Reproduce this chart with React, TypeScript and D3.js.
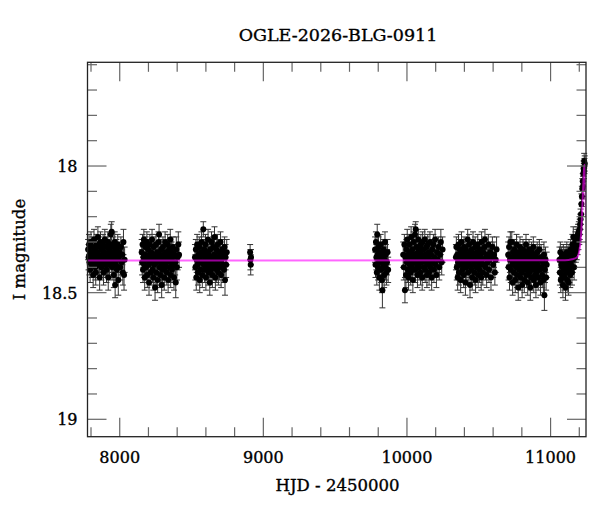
import React from "react";
import * as d3 from "d3";

// [HJD - 2450000, I mag, error] per observing season
const season1: [number, number, number][] = [
  [7780,18.33,.04],[7783,18.36,.05],[7786,18.31,.04],[7789,18.38,.05],[7791,18.35,.04],[7794,18.41,.05],[7797,18.34,.04],[7800,18.30,.04],[7803,18.37,.05],[7806,18.39,.05],
  [7809,18.32,.04],[7812,18.36,.04],[7815,18.43,.05],[7818,18.35,.04],[7821,18.29,.04],[7824,18.38,.05],[7827,18.33,.04],[7830,18.40,.05],[7833,18.42,.05],[7836,18.36,.04],
  [7839,18.31,.04],[7842,18.37,.05],[7845,18.34,.04],[7848,18.28,.04],[7851,18.39,.05],[7854,18.35,.04],[7857,18.32,.04],[7860,18.44,.05],[7863,18.37,.05],[7866,18.30,.04],
  [7869,18.36,.04],[7872,18.40,.05],[7875,18.33,.04],[7878,18.38,.05],[7881,18.35,.04],[7884,18.31,.04],[7887,18.42,.05],[7890,18.37,.05],[7893,18.34,.04],[7896,18.29,.04],
  [7899,18.39,.05],[7902,18.36,.04],[7905,18.32,.04],[7908,18.41,.05],[7911,18.35,.04],[7914,18.38,.05],[7917,18.30,.04],[7920,18.44,.05],[7923,18.36,.04],[7926,18.33,.04],
  [7929,18.39,.05],[7932,18.35,.04],[7935,18.31,.04],[7938,18.27,.04],[7941,18.37,.05],[7944,18.26,.04],[7947,18.40,.05],[7950,18.34,.04],[7953,18.38,.05],[7956,18.32,.04],
  [7959,18.43,.05],[7962,18.36,.04],[7965,18.30,.04],[7968,18.47,.05],[7971,18.35,.04],[7974,18.39,.05],[7977,18.33,.04],[7980,18.41,.05],[7983,18.37,.05],[7986,18.31,.04],
  [7990,18.45,.06],[7994,18.36,.04],[7998,18.34,.04],[8003,18.40,.05],[8008,18.32,.04],[8013,18.38,.05],[8018,18.35,.04],[8022,18.42,.05],[8026,18.30,.05],[8030,18.43,.06],
  [8034,18.37,.05],
];

const season2: [number, number, number][] = [
  [8153,18.34,.05],[8156,18.38,.05],[8159,18.31,.04],[8162,18.41,.05],[8165,18.36,.04],[8168,18.29,.04],[8171,18.39,.05],[8174,18.44,.05],[8177,18.35,.04],[8180,18.32,.04],
  [8183,18.40,.05],[8186,18.37,.05],[8189,18.30,.04],[8192,18.43,.05],[8195,18.36,.04],[8198,18.33,.04],[8201,18.39,.05],[8204,18.46,.05],[8207,18.35,.04],[8210,18.31,.04],
  [8213,18.38,.05],[8216,18.42,.05],[8219,18.34,.04],[8222,18.37,.05],[8225,18.29,.04],[8228,18.41,.05],[8231,18.36,.04],[8234,18.44,.05],[8237,18.32,.04],[8240,18.39,.05],
  [8243,18.35,.04],[8246,18.48,.05],[8249,18.37,.05],[8252,18.31,.04],[8255,18.42,.05],[8258,18.38,.05],[8261,18.34,.04],[8264,18.45,.05],[8267,18.36,.04],[8270,18.30,.04],
  [8274,18.27,.04],[8277,18.40,.05],[8280,18.35,.04],[8283,18.43,.05],[8286,18.38,.05],[8289,18.33,.04],[8292,18.47,.05],[8295,18.36,.04],[8298,18.41,.05],[8301,18.32,.04],
  [8304,18.39,.05],[8307,18.35,.04],[8310,18.44,.05],[8313,18.37,.05],[8316,18.30,.04],[8319,18.40,.05],[8322,18.34,.04],[8325,18.38,.05],[8328,18.42,.05],[8331,18.36,.04],
  [8334,18.31,.04],[8337,18.45,.05],[8340,18.37,.05],[8343,18.33,.04],[8346,18.40,.05],[8349,18.35,.04],[8352,18.29,.04],[8355,18.43,.05],[8358,18.38,.05],[8361,18.34,.04],
  [8364,18.41,.05],[8367,18.36,.04],[8370,18.32,.04],[8374,18.39,.05],[8378,18.44,.05],[8382,18.35,.04],[8386,18.38,.05],[8390,18.46,.06],[8394,18.33,.05],[8398,18.40,.05],
  [8403,18.36,.05],[8408,18.31,.05],[8413,18.35,.05],
];

const season3: [number, number, number][] = [
  [8524,18.36,.05],[8527,18.40,.05],[8530,18.33,.04],[8533,18.44,.05],[8536,18.37,.05],[8539,18.31,.04],[8542,18.39,.05],[8545,18.42,.05],[8548,18.35,.04],[8551,18.38,.05],
  [8554,18.32,.04],[8557,18.45,.05],[8560,18.36,.04],[8563,18.41,.05],[8566,18.34,.04],[8569,18.30,.04],[8572,18.38,.05],[8575,18.43,.05],[8578,18.35,.04],[8582,18.25,.03],
  [8585,18.39,.05],[8588,18.33,.04],[8591,18.41,.05],[8594,18.37,.05],[8597,18.31,.04],[8600,18.44,.05],[8603,18.36,.04],[8606,18.40,.05],[8609,18.34,.04],[8612,18.38,.05],
  [8615,18.29,.04],[8618,18.42,.05],[8621,18.35,.04],[8624,18.39,.05],[8627,18.46,.05],[8630,18.33,.04],[8633,18.37,.05],[8636,18.41,.05],[8639,18.30,.04],[8642,18.36,.04],
  [8645,18.43,.05],[8648,18.38,.05],[8651,18.32,.04],[8654,18.40,.05],[8657,18.35,.04],[8660,18.28,.04],[8663,18.39,.05],[8666,18.44,.05],[8669,18.36,.04],[8672,18.33,.04],
  [8675,18.41,.05],[8678,18.37,.05],[8681,18.31,.04],[8684,18.38,.05],[8687,18.42,.05],[8690,18.34,.04],[8694,18.40,.05],[8698,18.36,.04],[8702,18.30,.04],[8706,18.43,.05],
  [8710,18.37,.05],[8714,18.33,.04],[8718,18.39,.05],[8722,18.35,.04],[8726,18.41,.05],[8730,18.32,.04],[8733,18.45,.06],[8737,18.36,.05],[8741,18.39,.05],[8745,18.34,.05],
];

const season3b: [number, number, number][] = [
  [8908,18.34,.03],[8910,18.37,.04],[8912,18.39,.04],[8914,18.36,.03],
];

const season4: [number, number, number][] = [
  [9778,18.33,.05],[9781,18.39,.05],[9784,18.30,.04],[9787,18.36,.05],[9790,18.42,.05],[9793,18.27,.04],[9796,18.35,.04],[9799,18.40,.05],[9802,18.32,.04],[9805,18.38,.05],
  [9808,18.44,.05],[9811,18.34,.04],[9814,18.37,.05],[9817,18.31,.04],[9820,18.41,.05],[9823,18.36,.04],[9826,18.45,.05],[9829,18.49,.07],[9832,18.35,.04],[9835,18.39,.05],
  [9838,18.33,.04],[9841,18.43,.05],[9844,18.37,.05],[9847,18.30,.04],[9850,18.40,.05],[9853,18.35,.04],[9857,18.42,.05],[9861,18.38,.05],[9865,18.34,.05],[9869,18.41,.05],
];

const season5: [number, number, number][] = [
  [9974,18.35,.05],[9978,18.40,.05],[9982,18.31,.04],[9986,18.49,.05],[9990,18.36,.04],[9993,18.43,.05],[9996,18.33,.04],[9999,18.38,.05],[10002,18.29,.04],[10005,18.41,.05],
  [10008,18.35,.04],[10011,18.44,.05],[10014,18.37,.05],[10017,18.31,.04],[10020,18.39,.05],[10023,18.34,.04],[10026,18.42,.05],[10029,18.28,.04],[10032,18.36,.04],[10035,18.40,.05],
  [10038,18.33,.04],[10041,18.45,.05],[10044,18.37,.05],[10047,18.30,.04],[10050,18.38,.05],[10053,18.35,.04],[10056,18.27,.04],[10058,18.41,.05],[10061,18.25,.03],[10064,18.36,.04],
  [10067,18.32,.04],[10070,18.39,.05],[10073,18.43,.05],[10076,18.34,.04],[10079,18.29,.04],[10082,18.37,.05],[10085,18.40,.05],[10088,18.33,.04],[10091,18.36,.04],[10094,18.42,.05],
  [10097,18.31,.04],[10100,18.38,.05],[10103,18.35,.04],[10106,18.44,.05],[10109,18.30,.04],[10112,18.37,.05],[10115,18.33,.04],[10118,18.40,.05],[10121,18.36,.04],[10124,18.29,.04],
  [10127,18.41,.05],[10130,18.35,.04],[10133,18.38,.05],[10136,18.32,.04],[10139,18.43,.05],[10142,18.36,.04],[10145,18.31,.04],[10148,18.39,.05],[10151,18.34,.04],[10154,18.42,.05],
  [10157,18.37,.05],[10160,18.30,.04],[10164,18.40,.05],[10168,18.35,.04],[10172,18.44,.05],[10176,18.33,.04],[10180,18.38,.05],[10184,18.31,.04],[10188,18.41,.05],[10192,18.36,.04],
  [10196,18.29,.04],[10200,18.39,.05],[10205,18.43,.05],[10210,18.34,.04],[10215,18.37,.05],[10220,18.32,.04],[10225,18.40,.05],[10230,18.35,.04],[10236,18.30,.05],[10242,18.38,.05],
  [10248,18.33,.05],
];

const season6: [number, number, number][] = [
  [10341,18.36,.05],[10344,18.32,.04],[10347,18.40,.05],[10350,18.35,.04],[10353,18.44,.05],[10356,18.38,.05],[10359,18.31,.04],[10362,18.42,.05],[10365,18.36,.04],[10368,18.33,.04],
  [10371,18.39,.05],[10374,18.45,.05],[10377,18.35,.04],[10380,18.30,.04],[10383,18.38,.05],[10386,18.41,.05],[10389,18.34,.04],[10392,18.37,.05],[10395,18.43,.05],[10398,18.32,.04],
  [10401,18.39,.05],[10404,18.36,.04],[10407,18.46,.05],[10410,18.33,.04],[10413,18.40,.05],[10416,18.35,.04],[10419,18.38,.05],[10423,18.29,.04],[10426,18.42,.05],[10429,18.36,.04],
  [10432,18.31,.04],[10435,18.39,.05],[10439,18.47,.05],[10442,18.34,.04],[10445,18.37,.05],[10448,18.41,.05],[10451,18.33,.04],[10454,18.44,.05],[10457,18.36,.04],[10460,18.30,.04],
  [10463,18.39,.05],[10466,18.35,.04],[10469,18.42,.05],[10472,18.38,.05],[10475,18.32,.04],[10478,18.45,.05],[10481,18.36,.04],[10484,18.40,.05],[10487,18.34,.04],[10490,18.37,.05],
  [10493,18.31,.04],[10496,18.43,.05],[10499,18.38,.05],[10502,18.35,.04],[10505,18.41,.05],[10508,18.33,.04],[10511,18.39,.05],[10514,18.36,.04],[10517,18.44,.05],[10520,18.30,.04],
  [10524,18.37,.05],[10528,18.42,.05],[10532,18.34,.04],[10536,18.39,.05],[10540,18.32,.04],[10543,18.29,.04],[10547,18.40,.05],[10551,18.36,.04],[10555,18.43,.05],[10559,18.35,.04],
  [10563,18.38,.05],[10567,18.31,.04],[10571,18.41,.05],[10575,18.37,.05],[10580,18.34,.04],[10585,18.44,.05],[10590,18.36,.05],[10595,18.32,.04],[10600,18.39,.05],[10606,18.35,.05],
  [10612,18.42,.05],[10618,18.37,.05],[10624,18.33,.05],
];

const season7: [number, number, number][] = [
  [10705,18.35,.05],[10708,18.40,.05],[10711,18.32,.04],[10714,18.44,.05],[10717,18.37,.05],[10720,18.30,.04],[10723,18.41,.05],[10726,18.36,.04],[10730,18.30,.04],[10733,18.39,.05],
  [10736,18.46,.05],[10739,18.34,.04],[10742,18.38,.05],[10745,18.42,.05],[10748,18.33,.04],[10751,18.37,.05],[10754,18.45,.05],[10757,18.35,.04],[10760,18.40,.05],[10763,18.31,.04],
  [10766,18.43,.05],[10769,18.38,.05],[10772,18.36,.04],[10775,18.48,.05],[10778,18.34,.04],[10781,18.41,.05],[10784,18.37,.05],[10787,18.32,.04],[10790,18.44,.05],[10793,18.39,.05],
  [10796,18.35,.04],[10799,18.42,.05],[10802,18.47,.05],[10805,18.36,.04],[10808,18.33,.04],[10811,18.40,.05],[10814,18.38,.05],[10817,18.45,.05],[10820,18.34,.04],[10823,18.41,.05],
  [10826,18.37,.05],[10829,18.31,.04],[10832,18.43,.05],[10835,18.39,.05],[10838,18.36,.04],[10841,18.46,.05],[10844,18.35,.04],[10847,18.40,.05],[10850,18.33,.04],[10853,18.42,.05],
  [10856,18.38,.05],[10859,18.48,.05],[10862,18.36,.04],[10865,18.44,.05],[10868,18.34,.04],[10871,18.39,.05],[10874,18.41,.05],[10877,18.37,.05],[10880,18.32,.04],[10883,18.45,.05],
  [10886,18.38,.05],[10889,18.35,.04],[10892,18.43,.05],[10895,18.40,.05],[10898,18.47,.05],[10901,18.36,.04],[10904,18.42,.05],[10907,18.34,.04],[10910,18.39,.05],[10914,18.44,.05],
  [10918,18.37,.05],[10922,18.33,.04],[10926,18.41,.05],[10930,18.46,.05],[10934,18.36,.05],[10938,18.40,.05],[10942,18.43,.05],[10946,18.38,.05],[10950,18.45,.05],[10954,18.35,.05],
  [10957,18.51,.06],[10961,18.41,.05],[10965,18.37,.05],[10969,18.44,.05],[10973,18.39,.05],
];

const season8: [number, number, number][] = [
  [11062,18.37,.05],[11065,18.42,.05],[11068,18.34,.04],[11071,18.45,.05],[11074,18.39,.05],[11077,18.36,.04],[11080,18.43,.05],[11083,18.40,.05],[11086,18.47,.05],[11089,18.35,.04],
  [11092,18.41,.05],[11095,18.38,.05],[11098,18.44,.05],[11101,18.36,.04],[11104,18.48,.05],[11107,18.39,.05],[11110,18.42,.05],[11113,18.34,.04],[11116,18.45,.05],[11119,18.37,.05],
  [11122,18.40,.05],[11125,18.46,.05],[11128,18.35,.04],[11131,18.41,.05],[11134,18.38,.05],[11137,18.43,.05],[11140,18.33,.04],[11143,18.39,.05],[11146,18.36,.04],[11149,18.42,.05],
  [11152,18.31,.04],[11155,18.37,.05],[11158,18.28,.04],[11161,18.34,.04],[11164,18.40,.05],[11167,18.32,.04],[11170,18.36,.04],[11173,18.30,.04],[11176,18.34,.04],[11179,18.29,.04],
  [11182,18.33,.04],[11185,18.28,.04],[11188,18.31,.04],[11191,18.27,.04],[11194,18.29,.04],[11197,18.26,.04],[11200,18.27,.04],[11203,18.25,.04],[11206,18.23,.04],[11209,18.21,.04],
  [11212,18.19,.04],[11215,18.15,.04],[11218,18.12,.04],[11221,18.09,.04],[11224,18.06,.03],[11226,18.08,.04],[11228,18.03,.03],[11230,18.01,.03],[11232,18.02,.03],[11234,17.98,.03],
  [11236,18.00,.03],[11238,17.99,.03],
];

// model light curve
const modelHjd = [7775, 11100, 11150, 11185, 11200, 11210, 11217, 11223, 11229, 11234, 11238, 11242, 11246.5];
const modelMag = [18.373, 18.372, 18.368, 18.36, 18.335, 18.29, 18.22, 18.14, 18.06, 18.005, 17.995, 18.06, 18.2];

const xMajorTicks = [8000, 9000, 10000, 11000];
const xMinorTicks = [7800, 8200, 8400, 8600, 8800, 9200, 9400, 9600, 9800, 10200, 10400, 10600, 10800, 11200];
const yMajorTicks = [18, 18.5, 19];
const yMinorTicks = [17.6, 17.7, 17.8, 17.9, 18.1, 18.2, 18.3, 18.4, 18.6, 18.7, 18.8, 18.9];

const title = "OGLE-2026-BLG-0911";
const xLabel = "HJD - 2450000";
const yLabel = "I magnitude";

const W = 600;
const H = 512;
const frame = { left: 87.5, right: 586, top: 62.3, bottom: 436.7 };
const font = "'DejaVu Serif', serif";

export default function App() {
  const x = d3.scaleLinear().domain([7775.6, 11246.7]).range([frame.left, frame.right]);
  const y = d3.scaleLinear().domain([17.5905, 19.0687]).range([frame.top, frame.bottom]);

  const points = [...season1, ...season2, ...season3, ...season3b, ...season4, ...season5, ...season6, ...season7, ...season8];

  const model = d3
    .line<number>()
    .x((d) => x(d))
    .y((_, i) => y(modelMag[i]))
    .curve(d3.curveMonotoneX)(modelHjd);

  const tickColor = "#666";
  const major = 19;
  const minor = 9.5;
  const textStyle = { fill: "#000", stroke: "#000", strokeWidth: 0.35 };

  return (
    <svg width={W} height={H} style={{ position: "absolute", left: 0, top: 0, background: "#fff" }}>
      <defs>
        <clipPath id="plotClip">
          <rect x={frame.left} y={frame.top} width={frame.right - frame.left} height={frame.bottom - frame.top} />
        </clipPath>
      </defs>

      {/* error bars */}
      <g stroke="#333" strokeWidth={1}>
        {points.map(([t, m, e], i) => {
          const cx = x(t);
          const y1 = y(m - e);
          const y2 = y(m + e);
          return (
            <g key={i}>
              <line x1={cx} x2={cx} y1={y1} y2={y2} />
              <line x1={cx - 3} x2={cx + 3} y1={y1} y2={y1} />
              <line x1={cx - 3} x2={cx + 3} y1={y2} y2={y2} />
            </g>
          );
        })}
      </g>
      <g fill="#000">
        {points.map(([t, m], i) => (
          <circle key={i} cx={x(t)} cy={y(m)} r={3} />
        ))}
      </g>

      <path d={model ?? ""} fill="none" stroke="#ff00ff" strokeOpacity={0.6} strokeWidth={2} clipPath="url(#plotClip)" />

      {/* ticks on all four sides */}
      <g stroke={tickColor} strokeWidth={1.2}>
        {xMajorTicks.map((t) => (
          <g key={"xM" + t}>
            <line x1={x(t)} x2={x(t)} y1={frame.bottom} y2={frame.bottom - major} />
            <line x1={x(t)} x2={x(t)} y1={frame.top} y2={frame.top + major} />
          </g>
        ))}
        {xMinorTicks.map((t) => (
          <g key={"xm" + t}>
            <line x1={x(t)} x2={x(t)} y1={frame.bottom} y2={frame.bottom - minor} />
            <line x1={x(t)} x2={x(t)} y1={frame.top} y2={frame.top + minor} />
          </g>
        ))}
        {yMajorTicks.map((t) => (
          <g key={"yM" + t}>
            <line x1={frame.left} x2={frame.left + major} y1={y(t)} y2={y(t)} />
            <line x1={frame.right} x2={frame.right - major} y1={y(t)} y2={y(t)} />
          </g>
        ))}
        {yMinorTicks.map((t) => (
          <g key={"ym" + t}>
            <line x1={frame.left} x2={frame.left + minor} y1={y(t)} y2={y(t)} />
            <line x1={frame.right} x2={frame.right - minor} y1={y(t)} y2={y(t)} />
          </g>
        ))}
      </g>

      <rect
        x={frame.left}
        y={frame.top}
        width={frame.right - frame.left}
        height={frame.bottom - frame.top}
        fill="none"
        stroke="#222"
        strokeWidth={1.3}
      />

      <g fontFamily={font} fontSize={16} style={textStyle}>
        {xMajorTicks.map((t) => (
          <text key={"xl" + t} x={x(t)} y={462.7} textAnchor="middle">
            {t}
          </text>
        ))}
        {yMajorTicks.map((t) => (
          <text key={"yl" + t} x={77.5} y={y(t) + 6} textAnchor="end">
            {t}
          </text>
        ))}
      </g>

      <text x={338} y={41} textAnchor="middle" fontFamily={font} fontSize={17.5} style={textStyle}>
        {title}
      </text>
      <text x={337.5} y={490.7} textAnchor="middle" fontFamily={font} fontSize={16.5} style={textStyle}>
        {xLabel}
      </text>
      <text
        transform={`translate(25,${(frame.top + frame.bottom) / 2}) rotate(-90)`}
        textAnchor="middle"
        fontFamily={font}
        fontSize={16.5}
        style={textStyle}
      >
        {yLabel}
      </text>
    </svg>
  );
}
